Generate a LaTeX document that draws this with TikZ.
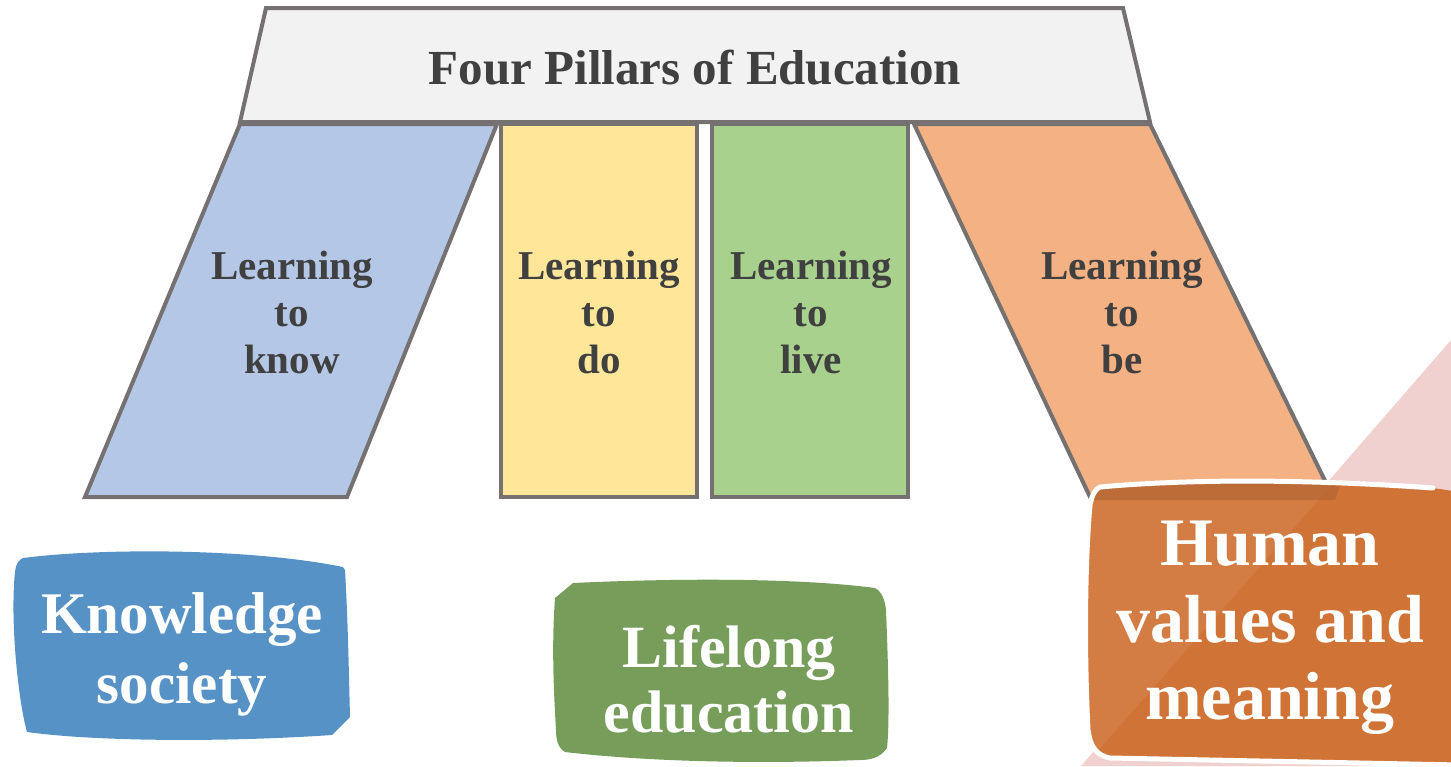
\documentclass[tikz,border=0pt]{standalone}
\usepackage{fontspec}
\setmainfont{Liberation Serif}
\definecolor{edge}{HTML}{767171}
\definecolor{txt}{HTML}{404040}
\definecolor{capfill}{HTML}{F2F2F2}
\definecolor{pblue}{HTML}{B4C7E7}
\definecolor{pyellow}{HTML}{FFE699}
\definecolor{pgreen}{HTML}{A9D18E}
\definecolor{porange}{HTML}{F4B183}
\definecolor{bblue}{HTML}{5692C5}
\definecolor{bgreen}{HTML}{779D5B}
\definecolor{borange}{HTML}{CF7337}
\definecolor{borangel}{HTML}{D37C43}
\definecolor{pink}{HTML}{F1D1CF}
\tikzset{
  pillar/.style={draw=edge, line width=4pt, line join=miter},
  plabel/.style={text=txt, font=\bfseries\fontsize{41}{47}\selectfont, align=center},
  blabel/.style={text=white, font=\bfseries\fontsize{59}{70}\selectfont, align=center},
}
\begin{document}
\begin{tikzpicture}[x=1pt,y=-1pt]
\useasboundingbox (0,0) rectangle (1451,766);
\begin{scope}
\clip (0,0) rectangle (1451,766);
% pink background triangle
\fill[pink] (1451,340) -- (1081,766) -- (1451,766) -- cycle;
% capital
\draw[pillar, fill=capfill] (266,8) -- (1123,8) -- (1150,122) -- (240,122) -- cycle;
\node[text=txt, font=\bfseries\fontsize{49}{58}\selectfont] (title) at (695,68) {Four Pillars of Education};
% pillars
\draw[pillar, fill=pblue] (240,124) -- (497,124) -- (347,497) -- (85,497) -- cycle;
\draw[pillar, fill=pyellow] (501,124) rectangle (697,497);
\draw[pillar, fill=pgreen] (712,124) rectangle (908,497);
\draw[pillar, fill=porange] (914,124) -- (1150,124) -- (1333,497) -- (1090,497) -- cycle;
\node[plabel] (know) at (292,312) {Learning\\to\\know};
\node[plabel] (do) at (599,312) {Learning\\to\\do};
\node[plabel] (live) at (811,312) {Learning\\to\\live};
\node[plabel] (be) at (1122,312) {Learning\\to\\be};
% knowledge box
\fill[bblue] (23,558) .. controls (100,548) and (250,548) .. (343,567) -- (345,570)
  .. controls (348,620) and (349,680) .. (350,717) -- (332,735)
  .. controls (230,742) and (100,742) .. (27,732)
  .. controls (18,700) and (10,620) .. (15,572)
  .. controls (16,563) and (19,560) .. (23,558) -- cycle;
\node[blabel] (ks) at (182,654) {Knowledge\\society};
% lifelong box
\fill[bgreen] (573,583) .. controls (680,578) and (800,578) .. (875,588)
  .. controls (882,592) and (885,600) .. (886,610)
  .. controls (888,660) and (890,720) .. (887,748)
  .. controls (880,758) and (870,760) .. (860,760)
  .. controls (760,764) and (650,762) .. (565,752)
  .. controls (558,748) and (556,740) .. (556,730)
  .. controls (553,680) and (552,640) .. (555,598) -- cycle;
\node[blabel, font=\bfseries\fontsize{60}{65}\selectfont] (le) at (729,679) {Lifelong\\education};
% human values box
\begin{scope}
\clip (1100,487) .. controls (1200,478) and (1320,480) .. (1433,488) -- (1460,492) -- (1460,765) -- (1110,758)
  .. controls (1095,755) and (1090,745) .. (1088,730)
  .. controls (1084,650) and (1085,560) .. (1090,505)
  .. controls (1092,495) and (1095,489) .. (1100,487) -- cycle;
\fill[borange] (1080,470) rectangle (1460,770);
\fill[borangel] (1080,470) -- (1345,470) -- (1081,770) -- cycle;
\fill[borange!85!black, opacity=0.6] (1080,470) -- (1345,470) -- (1335,500) -- (1080,500) -- cycle;
\end{scope}
\draw[white, line width=5pt, line cap=round] (1433,488) .. controls (1320,480) and (1200,478) .. (1100,487)
  .. controls (1095,489) and (1092,495) .. (1090,505)
  .. controls (1085,560) and (1084,650) .. (1088,730)
  .. controls (1090,745) and (1095,755) .. (1110,758) -- (1460,765);
\node[blabel, font=\bfseries\fontsize{68}{77}\selectfont] (hv) at (1270,628) {Human\\values and\\meaning};
\end{scope}
\end{tikzpicture}
\end{document}
